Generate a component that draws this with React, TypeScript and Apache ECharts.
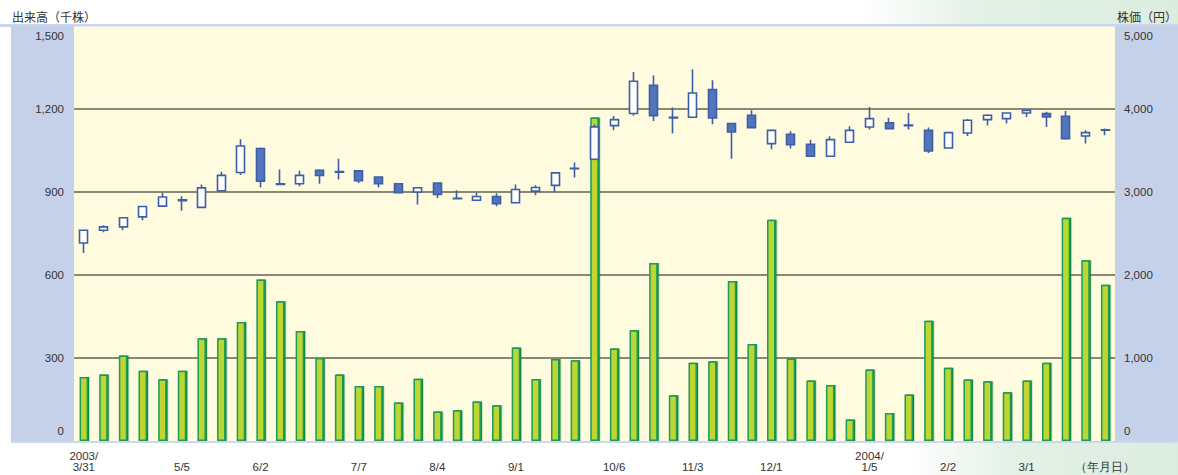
import React, { useEffect, useRef } from 'react';
import * as echarts from 'echarts';

// Weekly categories (week starting date)
const weeks = [
  '2003/3/31', '2003/4/7', '2003/4/14', '2003/4/21', '2003/4/28', '2003/5/5', '2003/5/12', '2003/5/19', '2003/5/26',
  '2003/6/2', '2003/6/9', '2003/6/16', '2003/6/23', '2003/6/30', '2003/7/7', '2003/7/14', '2003/7/21', '2003/7/28',
  '2003/8/4', '2003/8/11', '2003/8/18', '2003/8/25', '2003/9/1', '2003/9/8', '2003/9/15', '2003/9/22', '2003/9/29',
  '2003/10/6', '2003/10/13', '2003/10/20', '2003/10/27', '2003/11/3', '2003/11/10', '2003/11/17', '2003/11/24',
  '2003/12/1', '2003/12/8', '2003/12/15', '2003/12/22', '2003/12/29', '2004/1/5', '2004/1/12', '2004/1/19',
  '2004/1/26', '2004/2/2', '2004/2/9', '2004/2/16', '2004/2/23', '2004/3/1', '2004/3/8', '2004/3/15', '2004/3/22',
  '2004/3/29',
];

// Tick labels shown under the x axis
const xTickLabels: Record<string, string> = {
  '2003/3/31': '2003/\n3/31',
  '2003/5/5': '5/5',
  '2003/6/2': '6/2',
  '2003/7/7': '7/7',
  '2003/8/4': '8/4',
  '2003/9/1': '9/1',
  '2003/10/6': '10/6',
  '2003/11/3': '11/3',
  '2003/12/1': '12/1',
  '2004/1/5': '2004/\n1/5',
  '2004/2/2': '2/2',
  '2004/3/1': '3/1',
  '2004/3/29': '（年月日）',
};

// Volume (thousand shares)
const volume = [
  231, 240, 309, 254, 223, 254, 371, 371, 430, 584, 505, 398, 300, 240, 199, 199, 139, 225,
  107, 111, 143, 129, 338, 224, 296, 292, 1169, 334, 400, 643, 165, 283, 288, 578, 351, 800,
  298, 219, 202, 78, 258, 101, 168, 435, 265, 222, 216, 176, 219, 283, 807, 653, 565,
];

// Stock price (yen)
const open = [
  2386, 2540, 2580, 2700, 2830, 2895, 2815, 3015, 3235, 3525, 3100, 3100, 3260, 3245, 3255, 3180, 3100, 3000,
  3108, 2925, 2900, 2945, 2870, 3010, 3080, 3285, 3395, 3800, 3945, 4285, 3900, 3900, 4233, 3825, 3924, 3583,
  3695, 3575, 3430, 3599, 3783, 3835, 3808, 3743, 3530, 3711, 3872, 3884, 3952, 3944, 3912, 3675, 3745,
];
const close = [
  2539, 2580, 2690, 2825, 2940, 2905, 3050, 3200, 3555, 3130, 3092, 3200, 3198, 3238, 3135, 3100, 2992, 3052,
  2970, 2918, 2945, 2860, 3030, 3055, 3230, 3280, 3785, 3872, 4335, 3920, 3892, 4193, 3892, 3723, 3776, 3743,
  3571, 3430, 3631, 3743, 3884, 3764, 3800, 3494, 3715, 3864, 3924, 3952, 3984, 3904, 3643, 3715, 3750,
];
const low = [
  2265, 2515, 2540, 2660, 2825, 2775, 2815, 3005, 3205, 3055, 3088, 3070, 3100, 3150, 3108, 3053, 2990, 2850,
  2928, 2915, 2898, 2828, 2865, 2960, 2995, 3175, 3382, 3745, 3920, 3855, 3704, 3898, 3816, 3402, 3776, 3514,
  3523, 3428, 3428, 3597, 3752, 3758, 3752, 3470, 3528, 3675, 3800, 3824, 3904, 3783, 3631, 3583, 3683,
];
const high = [
  2545, 2600, 2700, 2835, 2990, 2950, 3090, 3245, 3635, 3535, 3270, 3255, 3275, 3400, 3258, 3182, 3102, 3055,
  3118, 3020, 2990, 2985, 3090, 3080, 3232, 3355, 3812, 3915, 4445, 4405, 4018, 4478, 4345, 3826, 3985, 3755,
  3731, 3631, 3671, 3792, 4024, 3896, 3952, 3776, 3727, 3880, 3936, 3956, 3992, 3968, 3976, 3743, 3765,
];

const volumeTicks = { min: 0, max: 1500, interval: 300 };
const priceTicks = { min: 0, max: 5000, interval: 1000 };

const LABEL_FONT = '"Liberation Sans", Arial, sans-serif';
const CJK_FONT = '"Noto Sans CJK JP", sans-serif';

function richLabel(v: number, min: number, max: number) {
  const s = v.toLocaleString('en-US');
  if (v === min) return `{lo|${s}}`;
  if (v === max) return `{hi|${s}}`;
  return `{n|${s}}`;
}

const richStyles = {
  n: { fontSize: 11.5, color: '#333', fontFamily: LABEL_FONT },
  lo: { fontSize: 11.5, color: '#333', fontFamily: LABEL_FONT, padding: [0, 0, 20, 0] },
  hi: { fontSize: 11.5, color: '#333', fontFamily: LABEL_FONT, padding: [20, 0, 0, 0] },
};

export default function App() {
  const ref = useRef<HTMLDivElement>(null);
  useEffect(() => {
    document.body.style.margin = '0';
    const chart = echarts.init(ref.current!, null, { renderer: 'svg' });
    const gridLine = '#8b8777';
    const option: any = {
      animation: false,
      graphic: [
        {
          type: 'rect', z: -20, silent: true,
          shape: { x: 0, y: 0, width: 1178, height: 24 },
          style: {
            fill: new echarts.graphic.LinearGradient(0, 0, 1, 0, [
              { offset: 0, color: '#ffffff' },
              { offset: 0.73, color: '#ffffff' },
              { offset: 0.83, color: '#e3f1e6' },
              { offset: 1, color: '#dcede0' },
            ]),
          },
        },
        {
          type: 'rect', z: -20, silent: true,
          shape: { x: 0, y: 443, width: 1178, height: 32 },
          style: {
            fill: new echarts.graphic.LinearGradient(0, 0, 1, 0, [
              { offset: 0, color: '#ffffff' },
              { offset: 0.77, color: '#ffffff' },
              { offset: 0.86, color: '#e3f1e6' },
              { offset: 1, color: '#dcede0' },
            ]),
          },
        },
        { type: 'rect', z: -19, silent: true, shape: { x: 0, y: 24, width: 1178, height: 3 }, style: { fill: '#cbd5ed' } },
        { type: 'rect', z: -19, silent: true, shape: { x: 11, y: 26, width: 63, height: 417 }, style: { fill: '#c5d1e9' } },
        { type: 'rect', z: -19, silent: true, shape: { x: 1115, y: 26, width: 63, height: 417 }, style: { fill: '#c5d1e9' } },
        { type: 'rect', z: -19, silent: true, shape: { x: 74, y: 26.5, width: 1041, height: 414.5 }, style: { fill: '#fefbdf' } },
        { type: 'rect', z: -19, silent: true, shape: { x: 11, y: 441, width: 1167, height: 2 }, style: { fill: '#cdd7ee' } },
        {
          type: 'text', z: 10, silent: true,
          style: { text: '出来高（千株）', x: 12, y: 16, fill: '#333', font: `12px ${CJK_FONT}`, textVerticalAlign: 'middle' },
        },
        {
          type: 'text', z: 10, silent: true,
          style: { text: '株価（円）', x: 1177, y: 16, fill: '#333', font: `12px ${CJK_FONT}`, textAlign: 'right', textVerticalAlign: 'middle' },
        },
      ],
      grid: { left: 74, right: 63, top: 26, bottom: 34, containLabel: false },
      xAxis: {
        type: 'category',
        data: weeks,
        boundaryGap: true,
        axisLine: { show: false },
        axisTick: { show: false },
        splitLine: { show: false },
        axisLabel: {
          interval: 0,
          formatter: (v: string) => xTickLabels[v] ?? '',
          verticalAlign: 'bottom',
          margin: 32,
          lineHeight: 11.5,
          fontSize: 11.5,
          color: '#333',
          fontFamily: LABEL_FONT,
        },
      },
      yAxis: [
        {
          type: 'value',
          position: 'left',
          ...volumeTicks,
          axisLine: { show: false },
          axisTick: { show: false },
          splitLine: {
            show: true,
            lineStyle: {
              width: 2,
              color: ['rgba(0,0,0,0)', gridLine, gridLine, gridLine, gridLine, 'rgba(0,0,0,0)'],
            },
          },
          axisLabel: {
            margin: 10,
            formatter: (v: number) => richLabel(v, volumeTicks.min, volumeTicks.max),
            rich: richStyles,
          },
        },
        {
          type: 'value',
          position: 'right',
          ...priceTicks,
          axisLine: { show: false },
          axisTick: { show: false },
          splitLine: { show: false },
          axisLabel: {
            margin: 9,
            formatter: (v: number) => richLabel(v, priceTicks.min, priceTicks.max),
            rich: richStyles,
          },
        },
      ],
      series: [
        {
          name: '出来高',
          type: 'bar',
          xAxisIndex: 0,
          yAxisIndex: 0,
          data: volume,
          barWidth: 8.5,
          z: 2,
          itemStyle: {
            color: '#bdd630',
            borderColor: '#1c9c58',
            borderWidth: 1.5,
            shadowColor: '#0b8447',
            shadowOffsetX: 1.2,
            shadowBlur: 0,
          },
        },
        {
          name: '株価',
          type: 'candlestick',
          xAxisIndex: 0,
          yAxisIndex: 1,
          data: weeks.map((_, i) => [open[i], close[i], low[i], high[i]]),
          barWidth: 8.5,
          z: 3,
          itemStyle: {
            color: '#ffffff',
            color0: '#5275bd',
            borderColor: '#3e5fa5',
            borderColor0: '#3e5fa5',
            borderWidth: 1.6,
          },
        },
      ],
    };
    chart.setOption(option);
    return () => chart.dispose();
  }, []);
  return <div ref={ref} style={{ position: 'absolute', left: 0, top: 0, width: 1178, height: 475 }} />;
}
